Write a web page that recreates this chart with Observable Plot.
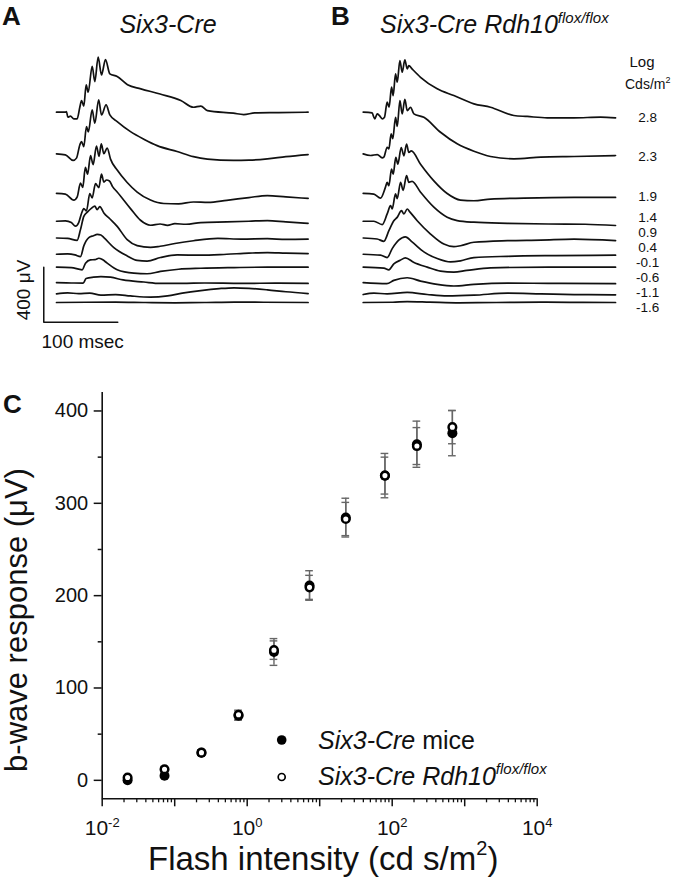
<!DOCTYPE html>
<html><head><meta charset="utf-8">
<script src="https://cdn.jsdelivr.net/npm/d3@7"></script>
<script src="https://cdn.jsdelivr.net/npm/@observablehq/plot@0.6"></script>
<style>
body{margin:0;background:#fff}
#root{position:relative;width:675px;height:882px;background:#fff;font-family:"Liberation Sans",Arial,sans-serif}
#root svg{position:absolute;left:0}
</style></head><body><div id="root"></div>
<script>
// ---------- Panel A / B : ERG traces, [time ms, amplitude µV] ----------
const a28 = [[0,0],[12,0],[13.5,5],[15.3,-36],[18.9,-29],[23.4,-48],[27.9,-48],[31.5,36],[33.8,85],[36.9,44],[40.1,199],[42.8,145],[48.2,334],[51.8,223],[56.3,400],[60.8,271],[66.2,383],[72.1,279],[82,260],[96,200],[114,170],[140,132],[168,85],[185,36],[195,44],[204,12],[239,-7],[253,-17],[268,-5],[300,-3],[340,0]];
const a23 = [[0,0],[12,-7],[22.5,-48],[27,-31],[31.5,65],[33.8,90],[36.9,53],[40.5,199],[43,160],[48.2,320],[51.8,223],[57,393],[60.8,283],[67,356],[72.1,283],[82,235],[100,162],[118,107],[136,60],[163,17],[185,-20],[204,-38],[239,-48],[260,-46],[285,-36],[310,-20],[340,-5]];
const a19 = [[0,0],[12,-5],[23.4,-48],[28,-24],[32.4,75],[35.5,45],[39,190],[42,140],[46,275],[49.5,210],[54,345],[57.5,270],[60.5,360],[64,290],[68.5,330],[73,250],[82,170],[95.5,80],[109,10],[127,-48],[145,-73],[165,-75],[185,-62],[205,-65],[230,-50],[260,-30],[285,-15],[310,-25],[340,-36]];
const a14 = [[0,0],[12,2],[20,-10],[25.7,-36],[30,-10],[34,60],[36.9,92],[40.5,75],[45,201],[48.2,170],[52.7,274],[57.2,245],[60.8,342],[64,285],[67.5,300],[71.6,293],[76,250],[82,213],[100,92],[113.5,7],[127,-29],[140,-20],[150,-30],[160,-18],[175,-22],[195,-10],[230,-5],[260,0],[285,5],[310,-5],[340,-15]];
const a09 = [[0,0],[15,-3],[27.9,-17],[32.4,61],[36.9,157],[42,190],[47,215],[51.8,232],[54.9,206],[58.5,228],[64,182],[72,140],[82,85],[95.5,-12],[109,-55],[127,-68],[140,-60],[160,-40],[185,-20],[218,-3],[250,-8],[285,-5],[310,-10],[340,-8]];
const a04 = [[0,0],[15,2],[25,-5],[32.4,-17],[36.9,61],[43.7,121],[50,135],[55,145],[60,140],[64,121],[77.5,48],[95.5,-12],[109,-45],[122.5,-50],[140.5,-24],[163,-5],[195,-7],[230,0],[260,8],[285,12],[310,8],[340,5]];
const am01 = [[0,0],[20,-3],[34.7,-19],[39.2,29],[45.9,53],[52,55],[57.2,65],[62,55],[68.5,29],[82,-19],[104.5,-44],[122.5,-48],[140.5,-31],[165,-15],[195,-8],[240,-3],[285,0],[340,0]];
const am06 = [[0,0],[20,-2],[36,-3],[40,30],[50,40],[60,44],[73,40],[90,20],[118,5],[140,-5],[170,-5],[200,-2],[250,-5],[300,-3],[340,-5]];
const am11 = [[0,0],[15,7],[30,2],[45,5],[60,-10],[80,-5],[100,-15],[127,-24],[150,-15],[170,5],[195,24],[220,38],[240,44],[260,40],[285,29],[310,15],[340,2]];
const am16 = [[0,0],[40,2],[80,3],[120,0],[160,-2],[200,0],[240,3],[280,2],[340,0]];

const b28 = [[0,0],[12,-5],[14.4,-36],[15.8,-48],[18.9,-12],[22,-25],[25.7,-48],[28.8,-36],[32.4,73],[35,36],[38.3,182],[40.5,121],[43.7,279],[46,218],[49.6,376],[52.7,291],[56.3,380],[59.5,315],[61.7,339],[66,315],[77.5,254],[100,170],[122.5,121],[149.6,61],[172,36],[203.6,-24],[221.6,-31],[248.7,-41],[284.7,-41],[320.8,-36],[341,-41]];
const b23 = [[0,0],[10,-12],[19,-5],[25.7,-29],[27.9,-24],[32.4,48],[34.7,36],[37.8,145],[40,110],[43.7,266],[46,200],[49.6,388],[52.7,290],[56.3,397],[59.5,315],[64,339],[68.5,291],[82,266],[104.5,157],[127,73],[149.6,19],[172,-19],[203.6,-36],[240,-24],[285,-19],[341,-12]];
const b19 = [[0,0],[14.4,-5],[23.4,-34],[30,44],[32.4,80],[34.7,56],[38.3,177],[40.5,140],[44.1,262],[46.8,214],[51.4,334],[55,274],[58.6,359],[61.7,298],[65,310],[77.5,213],[95.5,92],[113.5,0],[131.5,-48],[149.6,-53],[172,-41],[217,-34],[285,-29],[341,-29]];
const b14 = [[0,0],[14.4,0],[25.7,-24],[32.4,53],[37,114],[39.2,90],[43.7,199],[46,165],[50.5,283],[54,225],[58.6,332],[61.7,283],[66,290],[77.5,211],[95.5,102],[113.5,29],[127,5],[149.6,-7],[195,-15],[250,-20],[300,-22],[341,-31]];
const b09 = [[0,0],[18.9,-7],[27.9,-24],[34.7,53],[41.4,126],[45.9,150],[51.8,199],[55,175],[59.5,211],[63,190],[73,126],[91,29],[109,-44],[122.5,-63],[131.5,-56],[149.6,-31],[195,-19],[240,-15],[285,-8],[341,-19]];
const b04 = [[0,0],[23.4,-7],[32.4,-24],[39.2,41],[48,102],[57,126],[66,90],[82,17],[100,-31],[118,-56],[131.5,-48],[149.6,-24],[195,-15],[260,-10],[341,-7]];
const bm01 = [[0,0],[28,-7],[34.7,-19],[41.4,24],[50,50],[57,68],[68,36],[86.5,0],[104.5,-29],[122.5,-36],[140,-24],[172,-5],[250,0],[341,0]];
const bm06 = [[0,0],[32,-7],[41.4,17],[59.5,36],[77.5,12],[100,-12],[122.5,-24],[149.6,-12],[195,-3],[250,-5],[341,-7]];
const bm11 = [[0,-5],[14.4,5],[32.4,0],[59.5,10],[86.5,-5],[113.5,-15],[149.6,-10],[195,5],[240,0],[285,-5],[341,-7]];
const bm16 = [[0,0],[40,2],[59.5,7],[90,3],[130,-2],[180,0],[240,3],[290,1],[341,0]];

const intensityLabels = ["2.8","2.3","1.9","1.4","0.9","0.4","-0.1","-0.6","-1.1","-1.6"];
const traceOffsetUV = [1384, 1081, 793, 591, 469, 351, 257, 144, 63, 0];
const scaleBarUV = 400, scaleBarMs = 100;

// ---------- Panel C : b-wave response ----------
const flashIntensity = [0.0224, 0.0724, 0.234, 0.759, 2.34, 7.24, 22.9, 79.4, 219, 676];
const ctrlMean = [0, 5, 30, 70, 139, 211, 284.5, 330, 364, 376];
const ctrlSem  = [2, 2, 3, 5, 14.5, 16, 21, 24, 25, 24.5];
const rdhMean  = [3, 12, 30, 71, 141, 209, 283, 330, 362, 382.5];
const rdhSem   = [2, 3, 3, 5, 10, 13, 18, 20, 20, 18];
const yTicks = [0, 100, 200, 300, 400];
const yMinor = [50, 150, 250, 350];
const xLabeled = [0.01, 1, 100, 10000];
const xMajorPlain = [0.1, 10, 1000];

const FONT = '"Liberation Sans", Arial, sans-serif';
const root = document.getElementById("root");

// ---- build trace table ----
const tracesA = [a28, a23, a19, a14, a09, a04, am01, am06, am11, am16];
const tracesB = [b28, b23, b19, b14, b09, b04, bm01, bm06, bm11, bm16];
const traceRows = [];
[["A", tracesA], ["B", tracesB]].forEach(([panel, traces]) => {
  traces.forEach((tr, i) => tr.forEach(([t, v]) =>
    traceRows.push({panel, id: panel + i, t, v, y: v + traceOffsetUV[i]})));
});
const barX = -17.2, barY = -143.3;
const scaleBar = [
  {panel: "A", t: barX, y: barY + scaleBarUV},
  {panel: "A", t: barX, y: barY},
  {panel: "A", t: barX + scaleBarMs, y: barY}
];
const labelNudge = [5, 2.6, 3.7, -3.7, -5.5, -6.7, -4.7, -5.2, -1.3, 5];
const labelRows = intensityLabels.map((label, i) => ({
  panel: "B", label, t: tracesB[i][tracesB[i].length - 1][0], y: traceOffsetUV[i], nudge: labelNudge[i]
}));

const topPlot = Plot.plot({
  width: 675, height: 360,
  marginTop: 0, marginBottom: 0, marginLeft: 41.2, marginRight: 57,
  fx: {domain: ["A", "B"], paddingInner: 0.1193, paddingOuter: 0, round: false, axis: null, label: null},
  x: {domain: [-20, 345], axis: null},
  y: {domain: [-421.8, 2196.4], axis: null},
  style: {fontFamily: FONT, overflow: "visible", background: "transparent"},
  marks: [
    Plot.line(traceRows, {fx: "panel", x: "t", y: "y", z: "id", stroke: "#111", strokeWidth: 1.7, curve: "monotone-x"}),
    Plot.line(scaleBar, {fx: "panel", x: "t", y: "y", stroke: "#111", strokeWidth: 1.5}),
    ...labelRows.map(r => Plot.text([r], {fx: "panel", x: "t", y: "y", text: "label", dx: 32, dy: r.nudge, fontSize: 13.5, fill: "#111"}))
  ]
});
topPlot.style.top = "0px";
root.appendChild(topPlot);

// ---- panel C ----
const ctrlRows = flashIntensity.map((x, i) => ({x, y: ctrlMean[i], lo: ctrlMean[i] - ctrlSem[i], hi: ctrlMean[i] + ctrlSem[i]}));
const rdhRows = flashIntensity.map((x, i) => ({x, y: rdhMean[i], lo: rdhMean[i] - rdhSem[i], hi: rdhMean[i] + rdhSem[i]}));
const capK = 1.13; // cap half-width as a factor on the log scale
const minorTicks = [];
for (let e = -2; e < 4; e++) for (let k = 2; k <= 9; k++) minorTicks.push(k * Math.pow(10, e));
const errMarks = rows => [
  Plot.ruleX(rows, {x: "x", y1: "lo", y2: "hi", stroke: "#666", strokeWidth: 1.4}),
  Plot.ruleY(rows, {y: "lo", x1: d => d.x / capK, x2: d => d.x * capK, stroke: "#666", strokeWidth: 1.4}),
  Plot.ruleY(rows, {y: "hi", x1: d => d.x / capK, x2: d => d.x * capK, stroke: "#666", strokeWidth: 1.4})
];

const cPlot = Plot.plot({
  width: 675, height: 512,
  marginTop: 22, marginBottom: 83.7, marginLeft: 101.7, marginRight: 138.3,
  x: {type: "log", domain: [0.01, 10000]},
  y: {domain: [-20, 420]},
  style: {fontFamily: FONT, overflow: "visible", background: "transparent", color: "#111"},
  marks: [
    Plot.axisY(yTicks, {tickSize: 8, tickPadding: 6, fontSize: 20, strokeWidth: 1.5, label: null, tickFormat: d => String(d)}),
    Plot.axisY(yMinor, {tickSize: 4, strokeWidth: 1.5, label: null, tickFormat: () => ""}),
    Plot.axisX(xLabeled, {tickSize: 8, tickPadding: 13, fontSize: 21, strokeWidth: 1.5, label: null, tickFormat: d => String(Math.round(Math.log10(d)))}),
    Plot.axisX(xMajorPlain, {tickSize: 8, strokeWidth: 1.5, label: null, tickFormat: () => ""}),
    Plot.axisX(minorTicks, {tickSize: 4, strokeWidth: 1.3, label: null, tickFormat: () => ""}),
    Plot.ruleX([0.01], {stroke: "#111", strokeWidth: 1.6}),
    Plot.ruleY([-20], {stroke: "#111", strokeWidth: 1.6}),
    ...errMarks(ctrlRows),
    ...errMarks(rdhRows),
    Plot.dot(ctrlRows, {x: "x", y: "y", r: 5, fill: "#000", stroke: "none"}),
    Plot.dot(rdhRows, {x: "x", y: "y", r: 3.8, fill: "#fff", stroke: "#000", strokeWidth: 2.5})
  ]
});
cPlot.style.top = "370px";
root.appendChild(cPlot);

// superscript exponents for x tick labels
d3.select(cPlot).selectAll('g[aria-label="x-axis tick label"] text').each(function() {
  const s = this.textContent;
  if (!s) return;
  const t = d3.select(this);
  t.text("10");
  t.append("tspan").attr("dy", "-8").attr("font-size", "13").text(s);
});

// ---- annotation layer (titles, legend, axis titles) ----
const NS = "http://www.w3.org/2000/svg";
const ann = document.createElementNS(NS, "svg");
ann.setAttribute("width", 675); ann.setAttribute("height", 882);
ann.style.top = "0px"; ann.style.pointerEvents = "none";
ann.setAttribute("font-family", FONT);
ann.innerHTML = `
<g fill="#111">
  <text x="2" y="25" font-size="26" font-weight="bold">A</text>
  <text x="168" y="33" font-size="25" font-style="italic" text-anchor="middle">Six3-Cre</text>
  <text x="331" y="25" font-size="26" font-weight="bold">B</text>
  <text x="380" y="33" font-size="25" font-style="italic">Six3-Cre Rdh10<tspan font-size="15" dy="-10">flox/flox</tspan></text>
  <text x="642" y="66.5" font-size="15" text-anchor="middle">Log</text>
  <text x="625" y="89" font-size="14">Cds/m<tspan font-size="9" dy="-6">2</tspan></text>
  <text transform="translate(30,290) rotate(-90)" font-size="19" text-anchor="middle">400 μV</text>
  <text x="41.5" y="348" font-size="19">100 msec</text>
  <text x="3" y="413" font-size="26" font-weight="bold">C</text>
  <text transform="translate(27,620) rotate(-90)" font-size="31" text-anchor="middle">b-wave response (μV)</text>
  <text x="148" y="870" font-size="33">Flash intensity (cd s/m<tspan font-size="20" dy="-15">2</tspan><tspan dy="15">)</tspan></text>
  <circle cx="281.7" cy="740" r="4.8" fill="#000"/>
  <circle cx="281.7" cy="777" r="3.5" fill="#fff" stroke="#000" stroke-width="1.7"/>
  <text x="318" y="749" font-size="25"><tspan font-style="italic">Six3-Cre</tspan> mice</text>
  <text x="318" y="785" font-size="25" font-style="italic">Six3-Cre Rdh10<tspan font-size="15" dy="-11">flox/flox</tspan></text>
</g>`;
root.appendChild(ann);
</script></body></html>
